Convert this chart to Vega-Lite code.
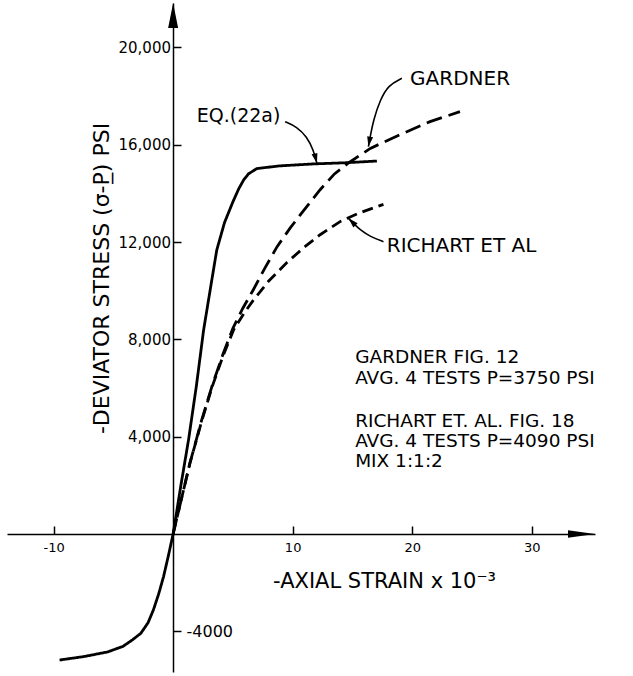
{
  "$schema": "https://vega.github.io/schema/vega-lite/v6.json",
  "width": 588,
  "height": 669,
  "autosize": {"type": "none"},
  "padding": {"left": 7, "top": 3, "right": 38, "bottom": 4},
  "background": "white",
  "config": {
    "view": {"stroke": null},
    "font": "DejaVu Sans",
    "axis": {"grid": false, "domainColor": "black", "tickColor": "black", "labelColor": "black", "titleColor": "black", "titleFontWeight": "normal", "labelFont": "DejaVu Sans", "titleFont": "DejaVu Sans"}
  },
  "resolve": {"axis": {"y": "independent"}},
  "layer": [
    {
      "data": {"values": [
        {"series": "EQ", "x": -9.5, "y": -5180}, {"series": "EQ", "x": -7.5, "y": -5040}, {"series": "EQ", "x": -5.5, "y": -4850},
        {"series": "EQ", "x": -4.2, "y": -4620}, {"series": "EQ", "x": -3.4, "y": -4350}, {"series": "EQ", "x": -2.7, "y": -4080},
        {"series": "EQ", "x": -2.1, "y": -3650}, {"series": "EQ", "x": -1.65, "y": -3120}, {"series": "EQ", "x": -1.2, "y": -2450},
        {"series": "EQ", "x": -0.8, "y": -1750}, {"series": "EQ", "x": -0.4, "y": -900}, {"series": "EQ", "x": 0, "y": 0},
        {"series": "EQ", "x": 0.65, "y": 2000}, {"series": "EQ", "x": 1.3, "y": 3900}, {"series": "EQ", "x": 1.95, "y": 6100},
        {"series": "EQ", "x": 2.55, "y": 8380}, {"series": "EQ", "x": 3.1, "y": 10030}, {"series": "EQ", "x": 3.65, "y": 11670},
        {"series": "EQ", "x": 4.3, "y": 12800}, {"series": "EQ", "x": 5.0, "y": 13650}, {"series": "EQ", "x": 5.5, "y": 14200},
        {"series": "EQ", "x": 5.9, "y": 14550}, {"series": "EQ", "x": 6.3, "y": 14800}, {"series": "EQ", "x": 7.0, "y": 15020}, {"series": "EQ", "x": 8.9, "y": 15130},
        {"series": "EQ", "x": 11.7, "y": 15210}, {"series": "EQ", "x": 14.5, "y": 15260}, {"series": "EQ", "x": 17.05, "y": 15330},
        {"series": "Gardner", "x": 0, "y": 0}, {"series": "Gardner", "x": 0.7, "y": 1450}, {"series": "Gardner", "x": 1.4, "y": 2900},
        {"series": "Gardner", "x": 2.4, "y": 4700}, {"series": "Gardner", "x": 3.3, "y": 6150}, {"series": "Gardner", "x": 4.2, "y": 7430},
        {"series": "Gardner", "x": 5.0, "y": 8450}, {"series": "Gardner", "x": 5.8, "y": 9250}, {"series": "Gardner", "x": 6.7, "y": 10030},
        {"series": "Gardner", "x": 7.7, "y": 10950}, {"series": "Gardner", "x": 8.7, "y": 11810}, {"series": "Gardner", "x": 9.8, "y": 12580},
        {"series": "Gardner", "x": 10.9, "y": 13280}, {"series": "Gardner", "x": 12.3, "y": 14150}, {"series": "Gardner", "x": 13.5, "y": 14800},
        {"series": "Gardner", "x": 14.67, "y": 15250}, {"series": "Gardner", "x": 16.5, "y": 15850}, {"series": "Gardner", "x": 18.7, "y": 16350},
        {"series": "Gardner", "x": 21.5, "y": 16950}, {"series": "Gardner", "x": 24.0, "y": 17360},
        {"series": "Richart", "x": 0, "y": 0}, {"series": "Richart", "x": 0.7, "y": 1450}, {"series": "Richart", "x": 1.4, "y": 2900},
        {"series": "Richart", "x": 2.4, "y": 4650}, {"series": "Richart", "x": 3.3, "y": 6100}, {"series": "Richart", "x": 4.2, "y": 7350},
        {"series": "Richart", "x": 5.05, "y": 8380}, {"series": "Richart", "x": 5.9, "y": 9050}, {"series": "Richart", "x": 6.7, "y": 9600},
        {"series": "Richart", "x": 8.0, "y": 10400}, {"series": "Richart", "x": 9.5, "y": 11150}, {"series": "Richart", "x": 11.0, "y": 11800},
        {"series": "Richart", "x": 12.3, "y": 12300}, {"series": "Richart", "x": 14.0, "y": 12850}, {"series": "Richart", "x": 15.5, "y": 13180},
        {"series": "Richart", "x": 17.6, "y": 13550}
      ]},
      "mark": {"type": "line", "color": "black", "strokeWidth": 2.8, "strokeCap": "butt"},
      "encoding": {
        "x": {"field": "x", "type": "quantitative",
          "scale": {"domain": [-13.9, 35.3], "nice": false, "zero": false},
          "axis": {"orient": "bottom", "offset": -138, "values": [-10, 10, 20, 30], "format": "d", "tickSize": -8, "tickWidth": 1.5, "domainWidth": 1.5,
            "labelPadding": 15, "labelFontSize": 13, "labelExpr": "replace(datum.label, '−', '-')", "labelOverlap": false, "labelFlush": false,
            "title": "-AXIAL  STRAIN  x  10⁻³", "titleFontSize": 21, "titleX": 377, "titleY": 53, "titleBaseline": "alphabetic", "titleAlign": "center"}},
        "y": {"field": "y", "type": "quantitative",
          "scale": {"domain": [-5672, 21825], "nice": false, "zero": false},
          "axis": {"orient": "left", "offset": -166, "values": [4000, 8000, 12000, 16000, 20000], "format": ",d", "tickSize": -8, "tickWidth": 1.5, "domainWidth": 1.5,
            "labelPadding": 10.5, "labelFontSize": 15, "labelOverlap": false,
            "title": "-DEVIATOR  STRESS  (σ-P̲)  PSI", "titleFontSize": 22, "titleX": -72, "titleY": 275, "titleAngle": -90, "titleAlign": "center", "titleBaseline": "middle"}},
        "detail": {"field": "series"},
        "strokeDash": {"field": "series", "type": "nominal", "scale": {"domain": ["EQ", "Gardner", "Richart"], "range": [[1, 0], [16, 7], [11, 6]]}, "legend": null}
      }
    },
    {
      "data": {"values": [{"x": 0, "y": 21825}]},
      "mark": {"type": "point", "shape": "M0,0L0.2,1L-0.2,1Z", "size": 2500, "filled": true, "color": "black", "opacity": 1, "strokeWidth": 0},
      "encoding": {
        "x": {"field": "x", "type": "quantitative"},
        "y": {"field": "y", "type": "quantitative",
          "axis": {"orient": "right", "offset": -422, "values": [-4000], "domain": false, "tickSize": 8, "tickWidth": 1.5, "labelPadding": 5, "labelFontSize": 16,
            "labelExpr": "replace(format(datum.value, 'd'), '−', '-')", "labelOverlap": false, "title": null}}
      }
    },
    {
      "data": {"values": [{"x": 35.3, "y": 0}]},
      "mark": {"type": "point", "shape": "M0,0L-1,0.14L-1,-0.14Z", "size": 2916, "filled": true, "color": "black", "opacity": 1, "strokeWidth": 0},
      "encoding": {
        "x": {"field": "x", "type": "quantitative"},
        "y": {"field": "y", "type": "quantitative", "axis": null}
      }
    },
    {
      "data": {"values": [
        {"lead": "EQ", "ord": 1, "x": 9.37, "y": 16946}, {"lead": "EQ", "ord": 2, "x": 10.35, "y": 16740}, {"lead": "EQ", "ord": 3, "x": 11.19, "y": 16330},
        {"lead": "EQ", "ord": 4, "x": 11.74, "y": 15780}, {"lead": "EQ", "ord": 5, "x": 12.03, "y": 15236},
        {"lead": "Gardner", "ord": 1, "x": 19.14, "y": 18730}, {"lead": "Gardner", "ord": 2, "x": 18.02, "y": 18455}, {"lead": "Gardner", "ord": 3, "x": 17.32, "y": 17840},
        {"lead": "Gardner", "ord": 4, "x": 16.76, "y": 17016}, {"lead": "Gardner", "ord": 5, "x": 16.49, "y": 16330}, {"lead": "Gardner", "ord": 6, "x": 16.34, "y": 15920},
        {"lead": "Richart", "ord": 1, "x": 17.6, "y": 12014}, {"lead": "Richart", "ord": 2, "x": 16.49, "y": 12220}, {"lead": "Richart", "ord": 3, "x": 15.65, "y": 12495},
        {"lead": "Richart", "ord": 4, "x": 15.09, "y": 12770}, {"lead": "Richart", "ord": 5, "x": 14.67, "y": 12975}
      ]},
      "mark": {"type": "line", "color": "black", "strokeWidth": 1.6, "interpolate": "basis"},
      "encoding": {
        "x": {"field": "x", "type": "quantitative"},
        "y": {"field": "y", "type": "quantitative", "axis": null},
        "detail": {"field": "lead"},
        "order": {"field": "ord", "type": "quantitative"}
      }
    },
    {
      "data": {"values": [{"x": 12.03, "y": 15236}]},
      "mark": {"type": "point", "shape": "M0,0L0.3,1L-0.3,1Z", "size": 400, "angle": 166, "filled": true, "color": "black", "opacity": 1, "strokeWidth": 0},
      "encoding": {"x": {"field": "x", "type": "quantitative"}, "y": {"field": "y", "type": "quantitative", "axis": null}}
    },
    {
      "data": {"values": [{"x": 16.34, "y": 15920}]},
      "mark": {"type": "point", "shape": "M0,0L0.3,1L-0.3,1Z", "size": 400, "angle": 190, "filled": true, "color": "black", "opacity": 1, "strokeWidth": 0},
      "encoding": {"x": {"field": "x", "type": "quantitative"}, "y": {"field": "y", "type": "quantitative", "axis": null}}
    },
    {
      "data": {"values": [{"x": 14.67, "y": 12975}]},
      "mark": {"type": "point", "shape": "M0,0L0.3,1L-0.3,1Z", "size": 400, "angle": 315, "filled": true, "color": "black", "opacity": 1, "strokeWidth": 0},
      "encoding": {"x": {"field": "x", "type": "quantitative"}, "y": {"field": "y", "type": "quantitative", "axis": null}}
    },
    {
      "data": {"values": [
        {"t": "GARDNER", "x": 19.83, "y": 18455},
        {"t": "RICHART  ET  AL", "x": 17.88, "y": 11603}
      ]},
      "mark": {"type": "text", "align": "left", "baseline": "alphabetic", "font": "DejaVu Sans", "fontSize": 20, "color": "black"},
      "encoding": {
        "x": {"field": "x", "type": "quantitative"},
        "y": {"field": "y", "type": "quantitative", "axis": null},
        "text": {"field": "t"}
      }
    },
    {
      "data": {"values": [
        {"t": "GARDNER  FIG. 12", "x": 15.23, "y": 7028},
        {"t": "AVG. 4 TESTS  P=3750 PSI", "x": 15.23, "y": 6165},
        {"t": "RICHART  ET. AL.  FIG. 18", "x": 15.23, "y": 4398},
        {"t": "AVG. 4 TESTS  P=4090 PSI", "x": 15.23, "y": 3576},
        {"t": "MIX  1:1:2", "x": 15.23, "y": 2754}
      ]},
      "mark": {"type": "text", "align": "left", "baseline": "alphabetic", "font": "DejaVu Sans", "fontSize": 18.5, "color": "black"},
      "encoding": {
        "x": {"field": "x", "type": "quantitative"},
        "y": {"field": "y", "type": "quantitative", "axis": null},
        "text": {"field": "t"}
      }
    },
    {
      "data": {"values": [{"t": "EQ.(22a)", "x": 1.98, "y": 16946}]},
      "mark": {"type": "text", "align": "left", "baseline": "alphabetic", "font": "DejaVu Sans", "fontSize": 19, "color": "black"},
      "encoding": {
        "x": {"field": "x", "type": "quantitative"},
        "y": {"field": "y", "type": "quantitative", "axis": null},
        "text": {"field": "t"}
      }
    }
  ]
}
